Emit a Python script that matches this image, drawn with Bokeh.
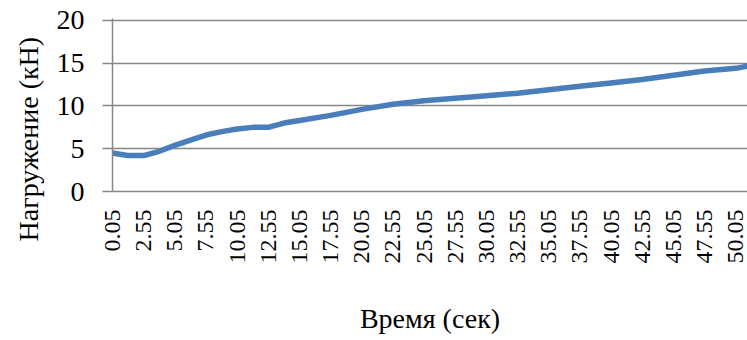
import math
from bokeh.plotting import figure
from bokeh.models import FixedTicker, Range1d, Title
from bokeh.embed import file_html
from bokeh.resources import INLINE

# Data
time_s = [0.05, 1.25, 2.55, 3.8, 5.05, 6.3, 7.55, 8.8, 10.05, 11.3, 12.55, 13.8,
          15.05, 17.55, 20.05, 22.55, 25.05, 27.55, 30.05, 32.55, 35.05, 37.55,
          40.05, 42.55, 45.05, 47.55, 50.05, 51.0]
load_kn = [4.5, 4.2, 4.2, 4.7, 5.4, 6.0, 6.6, 7.0, 7.3, 7.5, 7.5, 8.0,
           8.3, 8.9, 9.6, 10.2, 10.6, 10.9, 11.2, 11.5, 11.9, 12.3,
           12.7, 13.1, 13.6, 14.1, 14.4, 14.65]
x_tick_labels = ["0.05", "2.55", "5.05", "7.55", "10.05", "12.55", "15.05", "17.55",
                 "20.05", "22.55", "25.05", "27.55", "30.05", "32.55", "35.05",
                 "37.55", "40.05", "42.55", "45.05", "47.55", "50.05"]
y_ticks = [0, 5, 10, 15, 20]
x_title = "Время (сек)"
y_title = "Нагружение (кН)"

FONT = "Liberation Serif"
GRID = "#868686"

p = figure(width=747, height=340, output_backend="svg", toolbar_location=None,
           x_range=Range1d(0.05, 51.0), y_range=Range1d(0, 20.23),
           min_border_left=110, min_border_right=0, min_border_top=18,
           min_border_bottom=149)
p.outline_line_color = None
p.background_fill_color = "white"
p.border_fill_color = "white"

p.line(time_s, load_kn, line_width=5.5, line_color="#4A7EBB",
       line_join="round", line_cap="round")

x_tick_vals = [float(s) for s in x_tick_labels]
p.xaxis.ticker = FixedTicker(ticks=x_tick_vals)
p.xaxis.major_label_overrides = {v: s for v, s in zip(x_tick_vals, x_tick_labels)}
p.xaxis.major_label_orientation = math.pi / 2
p.xaxis.major_label_text_font = FONT
p.xaxis.major_label_text_font_size = "24px"
p.xaxis.major_label_text_color = "black"
p.xaxis.major_label_standoff = 18
p.xaxis.major_tick_out = 0
p.xaxis.major_tick_in = 0
p.xaxis.minor_tick_out = 0
p.xaxis.minor_tick_in = 0
p.xaxis.axis_line_color = GRID
p.xaxis.axis_line_width = 1.5
p.xaxis.axis_label = x_title
p.xaxis.axis_label_text_font = FONT
p.xaxis.axis_label_text_font_size = "28px"
p.xaxis.axis_label_text_font_style = "normal"
p.xaxis.axis_label_text_color = "black"
p.xaxis.axis_label_standoff = 36

p.yaxis.ticker = FixedTicker(ticks=y_ticks)
p.yaxis.major_label_text_font = FONT
p.yaxis.major_label_text_font_size = "28px"
p.yaxis.major_label_text_color = "black"
p.yaxis.major_label_standoff = 18
p.yaxis.major_tick_out = 10
p.yaxis.major_tick_in = 0
p.yaxis.minor_tick_out = 0
p.yaxis.minor_tick_in = 0
p.yaxis.major_tick_line_color = GRID
p.yaxis.major_tick_line_width = 1.5
p.yaxis.axis_line_color = GRID
p.yaxis.axis_line_width = 1.5

p.xgrid.grid_line_color = None
p.ygrid.ticker = FixedTicker(ticks=y_ticks)
p.ygrid.grid_line_color = GRID
p.ygrid.grid_line_width = 1.5

ytitle = Title(text=y_title, align="left", offset=-50, standoff=20,
               text_font=FONT, text_font_size="28px", text_font_style="normal",
               text_color="black")
p.add_layout(ytitle, "left")

open("out.html", "w").write(file_html(p, INLINE))
